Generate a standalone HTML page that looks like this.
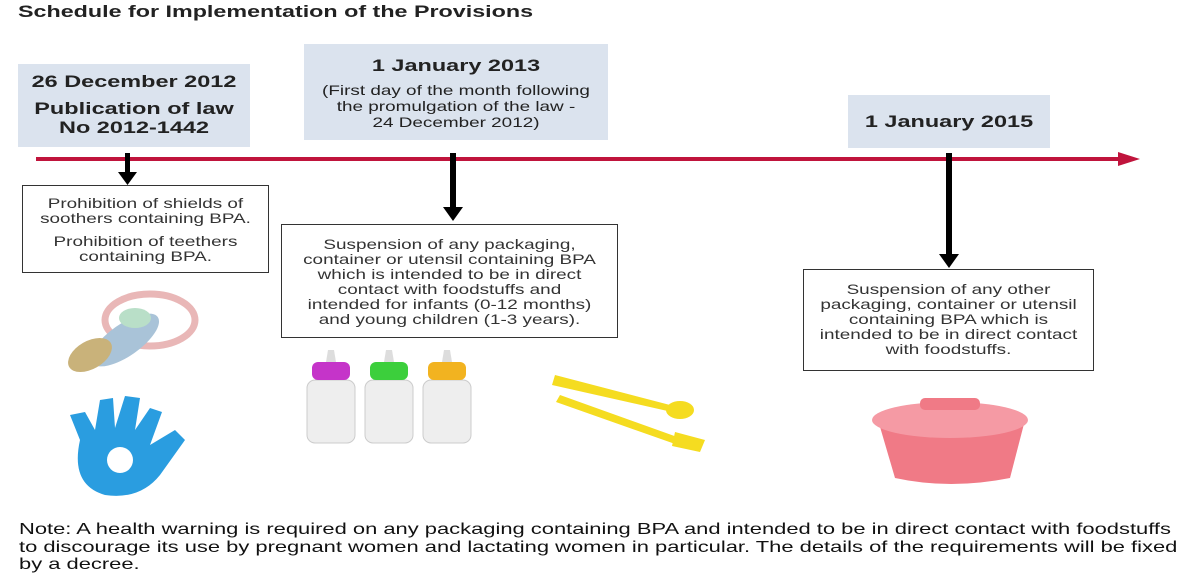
<!DOCTYPE html>
<html><head><style>
body{margin:0;width:1194px;height:587px;background:#fff;position:relative;overflow:hidden;font-family:"Liberation Sans",Arial,sans-serif;color:#222}
.a{position:absolute}
.s{transform:scaleX(1.35);transform-origin:center}
.sl{transform:scaleX(1.37);transform-origin:left top}
.bl{background:#dbe3ee;text-align:center;font-weight:bold;color:#222}
.bx{border:1.5px solid #333;text-align:center;font-size:14px;line-height:15px;color:#333;box-sizing:border-box}
</style></head><body>
<div class="a sl" style="left:18px;top:2px;font-weight:bold;font-size:17px;white-space:nowrap">Schedule for Implementation of the Provisions</div>
<div class="a bl" style="left:18px;top:64px;width:232px;height:83px;font-size:17px;line-height:19px;padding-top:8px;box-sizing:border-box"><div style="transform:scaleX(1.38)">26 December 2012<div style="margin-top:8px">Publication of law<br>No 2012-1442</div></div></div>
<div class="a bl" style="left:304px;top:44px;width:304px;height:96px;padding-top:12px;box-sizing:border-box"><div style="font-size:17px;transform:scaleX(1.38)">1 January 2013</div><div class="s" style="font-weight:normal;font-size:14px;line-height:16px;margin-top:6px">(First day of the month following<br>the promulgation of the law -<br>24 December 2012)</div></div>
<div class="a bl" style="left:848px;top:95px;width:202px;height:53px;font-size:17px;line-height:53px"><div style="transform:scaleX(1.38)">1 January 2015</div></div>
<svg class="a" style="left:0;top:0" width="1194" height="587">
<line x1="36" y1="159" x2="1122" y2="159" stroke="#c0143c" stroke-width="4"/>
<polygon points="1118,152 1140,159 1118,166" fill="#c0143c"/>
<g fill="#000"><rect x="125" y="153" width="5" height="20"/><polygon points="118,172 137,172 127.5,185"/>
<rect x="450" y="153" width="6" height="55"/><polygon points="443,207 463,207 453,221"/>
<rect x="946" y="153" width="6" height="102"/><polygon points="939,254 959,254 949,268"/></g>
<ellipse cx="150" cy="320" rx="45" ry="26" fill="none" stroke="#e9b7b7" stroke-width="7"/>
<ellipse cx="125" cy="340" rx="40" ry="16" fill="#a9c3d8" transform="rotate(-35 125 340)"/>
<ellipse cx="90" cy="355" rx="24" ry="14" fill="#c9b27a" transform="rotate(-30 90 355)"/>
<ellipse cx="135" cy="318" rx="16" ry="10" fill="#b9dfc8"/>
<path d="M80 440 L70 415 L85 412 L95 430 L100 400 L113 398 L115 428 L125 396 L140 398 L135 430 L150 408 L162 412 L150 445 L175 430 L185 440 L160 475 Q140 500 105 495 Q70 485 80 440Z" fill="#2a9de0"/>
<circle cx="120" cy="460" r="13" fill="#fff"/>
<g><rect x="307" y="380" width="48" height="63" rx="8" fill="#eee" stroke="#ccc"/><rect x="312" y="362" width="38" height="18" rx="6" fill="#c534c9"/>
<rect x="365" y="380" width="48" height="63" rx="8" fill="#eee" stroke="#ccc"/><rect x="370" y="362" width="38" height="18" rx="6" fill="#3ccf3c"/>
<rect x="423" y="380" width="48" height="63" rx="8" fill="#eee" stroke="#ccc"/><rect x="428" y="362" width="38" height="18" rx="6" fill="#f2b320"/>
<path d="M326 362 L328 350 L334 350 L336 362Z M384 362 L386 350 L392 350 L394 362Z M442 362 L444 350 L450 350 L452 362Z" fill="#ddd"/></g>
<g fill="#f5dc20"><path d="M555 375 L670 405 L672 412 L552 385Z"/><ellipse cx="680" cy="410" rx="14" ry="9"/>
<path d="M560 395 L680 438 L678 445 L556 402Z"/><path d="M675 432 L705 440 L700 452 L672 446Z"/></g>
<path d="M878 420 L1025 420 L1010 478 Q950 490 895 478Z" fill="#f07a86"/>
<ellipse cx="950" cy="420" rx="78" ry="18" fill="#f59aa4"/>
<rect x="920" y="398" width="60" height="12" rx="5" fill="#f07a86"/>
</svg>
<div class="a bx" style="left:22px;top:185px;width:247px;height:88px;padding-top:10px"><div class="s">Prohibition of shields of<br>soothers containing BPA.<div style="margin-top:8px">Prohibition of teethers<br>containing BPA.</div></div></div>
<div class="a bx" style="left:281px;top:224px;width:337px;height:114px;padding-top:12px"><div class="s">Suspension of any packaging,<br>container or utensil containing BPA<br>which is intended to be in direct<br>contact with foodstuffs and<br>intended for infants (0-12 months)<br>and young children (1-3 years).</div></div>
<div class="a bx" style="left:803px;top:269px;width:291px;height:102px;padding-top:12px"><div class="s">Suspension of any other<br>packaging, container or utensil<br>containing BPA which is<br>intended to be in direct contact<br>with foodstuffs.</div></div>
<div class="a sl" style="left:19px;top:521px;font-size:16px;line-height:17.5px;color:#111;white-space:nowrap">Note: A health warning is required on any packaging containing BPA and intended to be in direct contact with foodstuffs<br>to discourage its use by pregnant women and lactating women in particular. The details of the requirements will be fixed<br>by a decree.</div>
</body></html>
